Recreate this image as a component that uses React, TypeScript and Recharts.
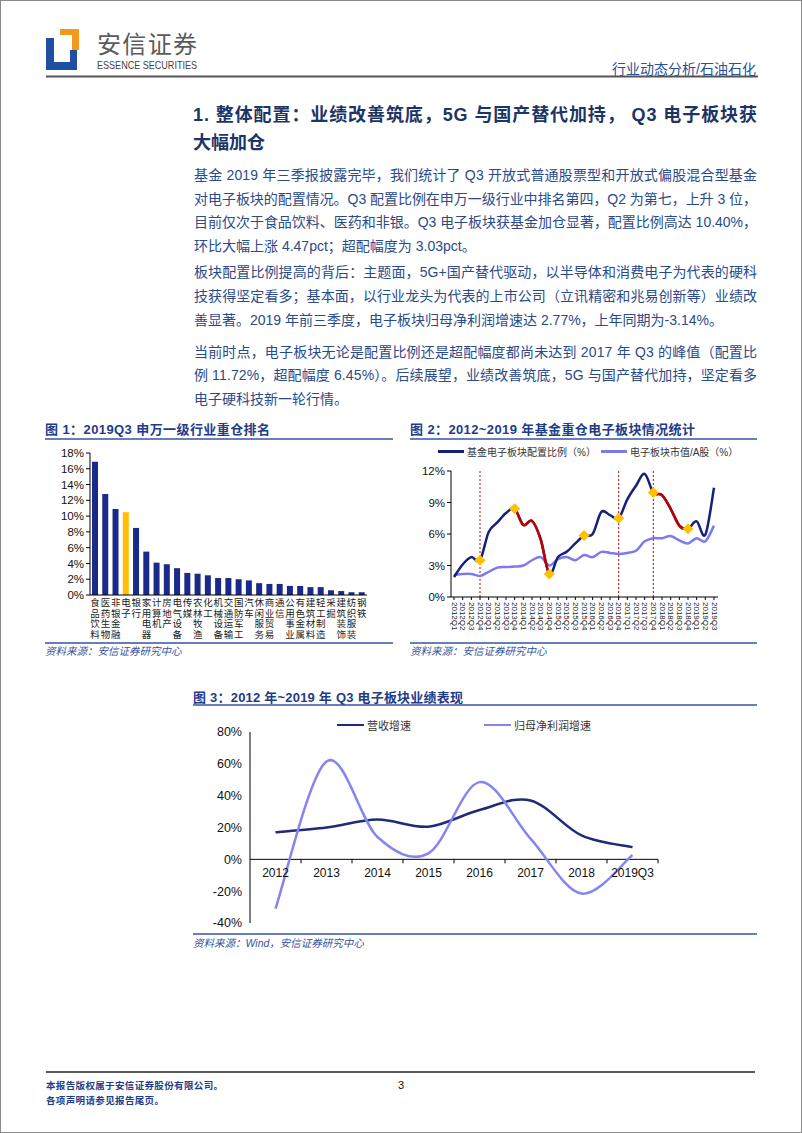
import React from 'react';
import { BarChart, Bar, XAxis, YAxis, Cell, LineChart, Line, ReferenceLine } from 'recharts';

const FONT = '"Liberation Sans", Arial, "Noto Sans CJK SC", sans-serif';

// ---------- Chart 1 data ----------
const industries = ['食品饮料', '医药生物', '非银金融', '电子', '银行', '家用电器', '计算机', '房地产', '电气设备', '传媒', '农林牧渔', '化工', '机械设备', '交通运输', '国防军工', '汽车', '休闲服务', '商业贸易', '通信', '公用事业', '有色金属', '建筑材料', '轻工制造', '采掘', '建筑装饰', '纺织服装', '钢铁'];
const weights = [16.9, 12.8, 10.9, 10.5, 8.5, 5.5, 4.1, 3.9, 3.4, 2.8, 2.7, 2.5, 2.15, 2.15, 2.0, 1.85, 1.5, 1.4, 1.4, 1.15, 1.15, 1.0, 1.0, 0.6, 0.5, 0.35, 0.35];
const highlightIndustry = '电子';
const weightTicks = [0, 2, 4, 6, 8, 10, 12, 14, 16, 18];

// ---------- Chart 2 data ----------
const quarters = ['2012Q1', '2012Q2', '2012Q3', '2012Q4', '2013Q1', '2013Q2', '2013Q3', '2013Q4', '2014Q1', '2014Q2', '2014Q3', '2014Q4', '2015Q1', '2015Q2', '2015Q3', '2015Q4', '2016Q1', '2016Q2', '2016Q3', '2016Q4', '2017Q1', '2017Q2', '2017Q3', '2017Q4', '2018Q1', '2018Q2', '2018Q3', '2018Q4', '2019Q1', '2019Q2', '2019Q3'];
const fundAlloc = [1.9, 3.1, 3.8, 3.5, 6.2, 7.1, 8.0, 8.4, 6.85, 7.25, 5.5, 2.2, 3.8, 4.3, 5.1, 5.85, 6.0, 8.1, 7.8, 7.5, 9.3, 10.6, 11.72, 9.95, 9.7, 8.4, 6.8, 6.5, 7.2, 5.93, 10.4];
const marketCap = [2.1, 2.2, 2.2, 2.0, 2.4, 2.8, 2.85, 2.9, 3.0, 3.5, 3.8, 3.0, 3.6, 3.8, 3.5, 4.0, 3.8, 4.3, 4.2, 4.1, 4.2, 4.4, 5.3, 5.6, 5.6, 5.8, 5.4, 5.1, 5.6, 5.3, 6.8];
const diamondQuarters = ['2012Q4', '2013Q4', '2014Q4', '2015Q4', '2016Q4', '2017Q4', '2018Q4'];
const redSegments = [['2013Q4', '2014Q4'], ['2017Q4', '2018Q4']];
const dashedQuarters = ['2012Q4', '2016Q4', '2017Q4'];
const allocTicks = [0, 3, 6, 9, 12];
const legend2 = [
  { name: '基金电子板块配置比例（%）', color: '#14207A' },
  { name: '电子板块市值/A股（%）', color: '#7B7BEF' },
];

// ---------- Chart 3 data ----------
const years = ['2012', '2013', '2014', '2015', '2016', '2017', '2018', '2019Q3'];
const revenueGrowth = [17.0, 20.0, 25.0, 20.5, 31.0, 37.0, 15.0, 7.6];
const profitGrowth = [-31.0, 61.5, 14.0, 3.8, 48.5, 13.0, -21.5, 2.77];
const growthTicks = [-40, -20, 0, 20, 40, 60, 80];
const legend3 = [
  { name: '营收增速', color: '#1F2A78' },
  { name: '归母净利润增速', color: '#8585F0' },
];

// ---------- tables ----------
const chart1Data = industries.map((name, i) => ({ name, value: weights[i] }));

const qIndex = (q: string) => quarters.indexOf(q);
const chart2Data = quarters.map((q, i) => {
  const inRed = redSegments.some(([s, e]) => i >= qIndex(s) - 1 && i <= qIndex(e) + 1);
  return {
    q,
    alloc: fundAlloc[i],
    cap: marketCap[i],
    red: inRed ? fundAlloc[i] : null,
    diamond: diamondQuarters.includes(q) ? fundAlloc[i] : null,
  };
});

const chart3Data = years.map((y, i) => ({ y, rev: revenueGrowth[i], profit: profitGrowth[i] }));

// Excel-like smoothing (Catmull-Rom); "inner" draws only between the 2nd and 2nd-last points
function smoothCurve(inner: boolean) {
  return (context: any) => {
    let pts: number[][] = [];
    return {
      areaStart() {},
      areaEnd() {},
      lineStart() {
        pts = [];
      },
      point(x: number, y: number) {
        pts.push([+x, +y]);
      },
      lineEnd() {
        const n = pts.length;
        const s = inner ? 1 : 0;
        const e = inner ? n - 2 : n - 1;
        if (n === 0 || e < s) return;
        context.moveTo(pts[s][0], pts[s][1]);
        for (let i = s; i < e; i++) {
          const p0 = pts[Math.max(i - 1, 0)];
          const p1 = pts[i];
          const p2 = pts[i + 1];
          const p3 = pts[Math.min(i + 2, n - 1)];
          context.bezierCurveTo(
            p1[0] + (p2[0] - p0[0]) / 6,
            p1[1] + (p2[1] - p0[1]) / 6,
            p2[0] - (p3[0] - p1[0]) / 6,
            p2[1] - (p3[1] - p1[1]) / 6,
            p2[0],
            p2[1]
          );
        }
      },
    };
  };
}
const smoothAll = smoothCurve(false);
const smoothInner = smoothCurve(true);

// ---------- ticks ----------
const VerticalCharTick = (props: any) => {
  const { x, y, payload } = props;
  const chars = String(payload.value).split('');
  return (
    <text x={x} y={y} textAnchor="middle" fontSize={9.5} fill="#222" fontFamily={FONT}>
      {chars.map((c, i) => (
        <tspan key={i} x={x} dy={i === 0 ? 11 : 10.7}>
          {c}
        </tspan>
      ))}
    </text>
  );
};

const RotatedTick = (props: any) => {
  const { x, y, payload } = props;
  return (
    <text
      x={x}
      y={y + 2}
      transform={`rotate(90 ${x} ${y + 2})`}
      textAnchor="start"
      dominantBaseline="central"
      fontSize={8}
      fill="#222"
      fontFamily={FONT}
    >
      {payload.value}
    </text>
  );
};

// chart 3 geometry
const C3 = { w: 475, h: 223, top: 20, right: 10, bottom: 2, yW: 57, xH: 10 };
const C3_PLOT_H = C3.h - C3.top - C3.bottom - C3.xH;
const C3_PLOT_W = C3.w - C3.yW - C3.right;
const C3_MIN = growthTicks[0];
const C3_MAX = growthTicks[growthTicks.length - 1];
const C3_ZERO_FROM_BOTTOM = (C3_PLOT_H * (0 - C3_MIN)) / (C3_MAX - C3_MIN);
const C3_BAND = C3_PLOT_W / years.length;

const ZeroLineTick = (props: any) => {
  const { x, y, payload } = props;
  const zy = y - C3_ZERO_FROM_BOTTOM;
  return (
    <g>
      <line x1={x + C3_BAND / 2} x2={x + C3_BAND / 2} y1={zy} y2={zy + 4} stroke="#000" strokeWidth={1} />
      <text x={x} y={zy + 14} textAnchor="middle" dominantBaseline="central" fontSize={12} fill="#111" fontFamily={FONT}>
        {payload.value}
      </text>
    </g>
  );
};

const DiamondDot = (props: any) => {
  const { cx, cy, value, index } = props;
  if (value == null || cy == null || isNaN(cy)) return <g key={`d${index}`} />;
  const r = 5.5;
  return (
    <polygon
      key={`d${index}`}
      points={`${cx},${cy - r} ${cx + r},${cy} ${cx},${cy + r} ${cx - r},${cy}`}
      fill="#FFC000"
    />
  );
};

const pct = (v: number) => `${v}%`;

const TITLE = '#1F3C88';
const RULE = '#3553A0';
const BODY = '#2A4A8A';

const bodyLines: { t: string; y: number; full: boolean }[] = [
  { t: '基金 2019 年三季报披露完毕，我们统计了 Q3 开放式普通股票型和开放式偏股混合型基金', y: 175, full: true },
  { t: '对电子板块的配置情况。Q3 配置比例在申万一级行业中排名第四，Q2 为第七，上升 3 位，', y: 199, full: true },
  { t: '目前仅次于食品饮料、医药和非银。Q3 电子板块获基金加仓显著，配置比例高达 10.40%，', y: 222, full: true },
  { t: '环比大幅上涨 4.47pct；超配幅度为 3.03pct。', y: 246, full: false },
  { t: '板块配置比例提高的背后：主题面，5G+国产替代驱动，以半导体和消费电子为代表的硬科', y: 272, full: true },
  { t: '技获得坚定看多；基本面，以行业龙头为代表的上市公司（立讯精密和兆易创新等）业绩改', y: 296, full: true },
  { t: '善显著。2019 年前三季度，电子板块归母净利润增速达 2.77%，上年同期为-3.14%。', y: 320, full: false },
  { t: '当前时点，电子板块无论是配置比例还是超配幅度都尚未达到 2017 年 Q3 的峰值（配置比', y: 352, full: true },
  { t: '例 11.72%，超配幅度 6.45%）。后续展望，业绩改善筑底，5G 与国产替代加持，坚定看多', y: 375, full: true },
  { t: '电子硬科技新一轮行情。', y: 399, full: false },
];

const LegendRow = ({ items, left, top, gap, lineW, fontSize }: any) => (
  <div
    style={{
      position: 'absolute',
      left,
      top,
      display: 'flex',
      alignItems: 'center',
      fontFamily: FONT,
      fontSize,
      color: '#333',
      whiteSpace: 'nowrap',
    }}
  >
    {items.map((it: any, i: number) => (
      <div key={i} style={{ display: 'flex', alignItems: 'center', marginRight: gap }}>
        <div style={{ width: lineW, height: 2.5, background: it.color, marginRight: 3 }} />
        <span>{it.name}</span>
      </div>
    ))}
  </div>
);

export default function App() {
  return (
    <div
      style={{
        position: 'absolute',
        left: 0,
        top: 0,
        width: 802,
        height: 1133,
        background: '#fff',
        overflow: 'hidden',
        boxSizing: 'border-box',
        border: '1px solid #8a8a8a',
        fontFamily: FONT,
      }}
    >
      {/* page text layer */}
      <svg width={802} height={1133} style={{ position: 'absolute', left: -1, top: -1 }} fontFamily={FONT}>
        {/* logo */}
        <rect x={46} y={38} width={8} height={32} fill="#1E4FA0" />
        <rect x={46} y={62} width={31} height={8} fill="#1E4FA0" />
        <rect x={70} y={50} width={7} height={20} fill="#1E4FA0" />
        <rect x={60} y={29} width={19} height={6} fill="#F39A1E" />
        <rect x={72} y={29} width={7} height={21} fill="#F39A1E" />
        <text x={97} y={44} fontSize={24} fill="#5a5a5a" dominantBaseline="central" textLength={100} lengthAdjust="spacing">
          安信证券
        </text>
        <text x={97} y={65} fontSize={11} fill="#444" dominantBaseline="central" textLength={100} lengthAdjust="spacingAndGlyphs">
          ESSENCE SECURITIES
        </text>
        <text x={756} y={69} fontSize={14} fill="#2B4E9A" textAnchor="end" dominantBaseline="central">
          行业动态分析/石油石化
        </text>
        <line x1={46} x2={758} y1={76.5} y2={76.5} stroke="#555" strokeWidth={2} />

        {/* heading */}
        <text x={193} y={115} fontSize={18} fontWeight="bold" fill="#1B3566" dominantBaseline="central" textLength={564} lengthAdjust="spacing">
          1. 整体配置：业绩改善筑底，5G 与国产替代加持， Q3 电子板块获
        </text>
        <text x={193} y={143} fontSize={18} fontWeight="bold" fill="#1B3566" dominantBaseline="central">
          大幅加仓
        </text>

        {/* body */}
        {bodyLines.map((l, i) =>
          l.full ? (
            <text key={i} x={194} y={l.y} fontSize={14} fill={BODY} dominantBaseline="central" textLength={563} lengthAdjust="spacing">
              {l.t}
            </text>
          ) : (
            <text key={i} x={194} y={l.y} fontSize={14} fill={BODY} dominantBaseline="central">
              {l.t}
            </text>
          )
        )}

        {/* chart titles */}
        <text x={45} y={429} fontSize={13} fontWeight="bold" fill={TITLE} dominantBaseline="central" textLength={225} lengthAdjust="spacing">
          图 1：2019Q3 申万一级行业重仓排名
        </text>
        <line x1={45} x2={393} y1={439} y2={439} stroke={RULE} strokeWidth={1.5} />
        <text x={410} y={429} fontSize={13} fontWeight="bold" fill={TITLE} dominantBaseline="central" textLength={285} lengthAdjust="spacing">
          图 2：2012~2019 年基金重仓电子板块情况统计
        </text>
        <line x1={410} x2={757} y1={439} y2={439} stroke={RULE} strokeWidth={1.5} />

        <line x1={45} x2={393} y1={643} y2={643} stroke={RULE} strokeWidth={1.5} />
        <text x={45} y={651} fontSize={10.5} fontStyle="italic" fill={RULE} dominantBaseline="central">
          资料来源：安信证券研究中心
        </text>
        <line x1={410} x2={757} y1={643} y2={643} stroke={RULE} strokeWidth={1.5} />
        <text x={410} y={651} fontSize={10.5} fontStyle="italic" fill={RULE} dominantBaseline="central">
          资料来源：安信证券研究中心
        </text>

        <text x={193} y={697} fontSize={13} fontWeight="bold" fill={TITLE} dominantBaseline="central" textLength={270} lengthAdjust="spacing">
          图 3：2012 年~2019 年 Q3 电子板块业绩表现
        </text>
        <line x1={193} x2={757} y1={705} y2={705} stroke={RULE} strokeWidth={1.5} />
        <line x1={193} x2={757} y1={934} y2={934} stroke={RULE} strokeWidth={1.5} />
        <text x={193} y={943} fontSize={10.5} fontStyle="italic" fill={RULE} dominantBaseline="central">
          资料来源：Wind，安信证券研究中心
        </text>

        {/* footer */}
        <line x1={46} x2={755} y1={1072} y2={1072} stroke="#222" strokeWidth={1.5} />
        <text x={46} y={1085} fontSize={9.5} fontWeight="bold" fill={TITLE} dominantBaseline="central" textLength={177} lengthAdjust="spacing">
          本报告版权属于安信证券股份有限公司。
        </text>
        <text x={46} y={1100} fontSize={9.5} fontWeight="bold" fill={TITLE} dominantBaseline="central" textLength={118} lengthAdjust="spacing">
          各项声明请参见报告尾页。
        </text>
        <text x={401} y={1085} fontSize={11} fill="#111" textAnchor="middle" dominantBaseline="central">
          3
        </text>
      </svg>

      {/* Chart 1 */}
      <div style={{ position: 'absolute', left: 44, top: 444 }}>
        <BarChart width={327} height={194} data={chart1Data} margin={{ top: 8, right: 5, left: 0, bottom: 4 }} barCategoryGap={0}>
          <XAxis
            dataKey="name"
            interval={0}
            tick={<VerticalCharTick />}
            tickLine={false}
            tickSize={0}
            tickMargin={0}
            height={40}
            axisLine={{ stroke: '#000' }}
          />
          <YAxis
            domain={[0, 18]}
            ticks={weightTicks}
            tickFormatter={pct}
            width={45}
            tickSize={4}
            tick={{ fontSize: 11.5, fill: '#111', fontFamily: FONT }}
            axisLine={{ stroke: '#000' }}
            tickLine={{ stroke: '#000' }}
            interval={0}
          />
          <Bar dataKey="value" barSize={6} isAnimationActive={false}>
            {chart1Data.map((d, i) => (
              <Cell key={i} fill={d.name === highlightIndustry ? '#FFC000' : '#1B2A8A'} />
            ))}
          </Bar>
        </BarChart>
      </div>

      {/* Chart 2 */}
      <LegendRow items={legend2} left={437} top={443} gap={5} lineW={26} fontSize={10} />
      <div style={{ position: 'absolute', left: 404, top: 439 }}>
        <LineChart width={320} height={195} data={chart2Data} margin={{ top: 31, right: 7, left: 0, bottom: 4 }}>
          <XAxis
            dataKey="q"
            interval={0}
            tick={<RotatedTick />}
            tickSize={3}
            tickMargin={0}
            height={34}
            padding={{ left: 3, right: 4 }}
            axisLine={{ stroke: '#000' }}
            tickLine={{ stroke: '#000' }}
          />
          <YAxis
            domain={[0, 12]}
            ticks={allocTicks}
            tickFormatter={pct}
            width={46}
            tickSize={4}
            tick={{ fontSize: 11.5, fill: '#111', fontFamily: FONT }}
            axisLine={{ stroke: '#000' }}
            tickLine={{ stroke: '#000' }}
            interval={0}
          />
          {dashedQuarters.map((q) => (
            <ReferenceLine key={q} x={q} stroke="#C00000" strokeDasharray="2 2" strokeWidth={1} />
          ))}
          <Line dataKey="cap" type={smoothAll as any} stroke="#7B7BEF" strokeWidth={2.5} dot={false} isAnimationActive={false} />
          <Line dataKey="alloc" type={smoothAll as any} stroke="#14207A" strokeWidth={2.5} dot={false} isAnimationActive={false} />
          <Line dataKey="red" type={smoothInner as any} stroke="#C00000" strokeWidth={2.5} dot={false} isAnimationActive={false} />
          <Line dataKey="diamond" stroke="none" dot={<DiamondDot />} activeDot={false} isAnimationActive={false} />
        </LineChart>
      </div>

      {/* Chart 3 */}
      <LegendRow items={legend3} left={336} top={716} gap={73} lineW={27} fontSize={11} />
      <div style={{ position: 'absolute', left: 192, top: 711 }}>
        <LineChart width={C3.w} height={C3.h} data={chart3Data} margin={{ top: C3.top, right: C3.right, left: 0, bottom: C3.bottom }}>
          <XAxis
            dataKey="y"
            interval={0}
            tick={<ZeroLineTick />}
            tickLine={false}
            tickSize={0}
            tickMargin={0}
            height={C3.xH}
            axisLine={false}
            padding={{ left: C3_BAND / 2, right: C3_BAND / 2 }}
          />
          <YAxis
            domain={[C3_MIN, C3_MAX]}
            ticks={growthTicks}
            tickFormatter={pct}
            width={C3.yW}
            tickSize={4}
            tickMargin={4}
            tick={{ fontSize: 12.5, fill: '#111', fontFamily: FONT }}
            axisLine={{ stroke: '#000' }}
            tickLine={false}
            interval={0}
          />
          <ReferenceLine y={0} stroke="#000" strokeWidth={1} />
          <Line dataKey="rev" type={smoothAll as any} stroke="#1F2A78" strokeWidth={2.5} dot={false} isAnimationActive={false} />
          <Line dataKey="profit" type={smoothAll as any} stroke="#8585F0" strokeWidth={2.5} dot={false} isAnimationActive={false} />
        </LineChart>
      </div>
    </div>
  );
}
